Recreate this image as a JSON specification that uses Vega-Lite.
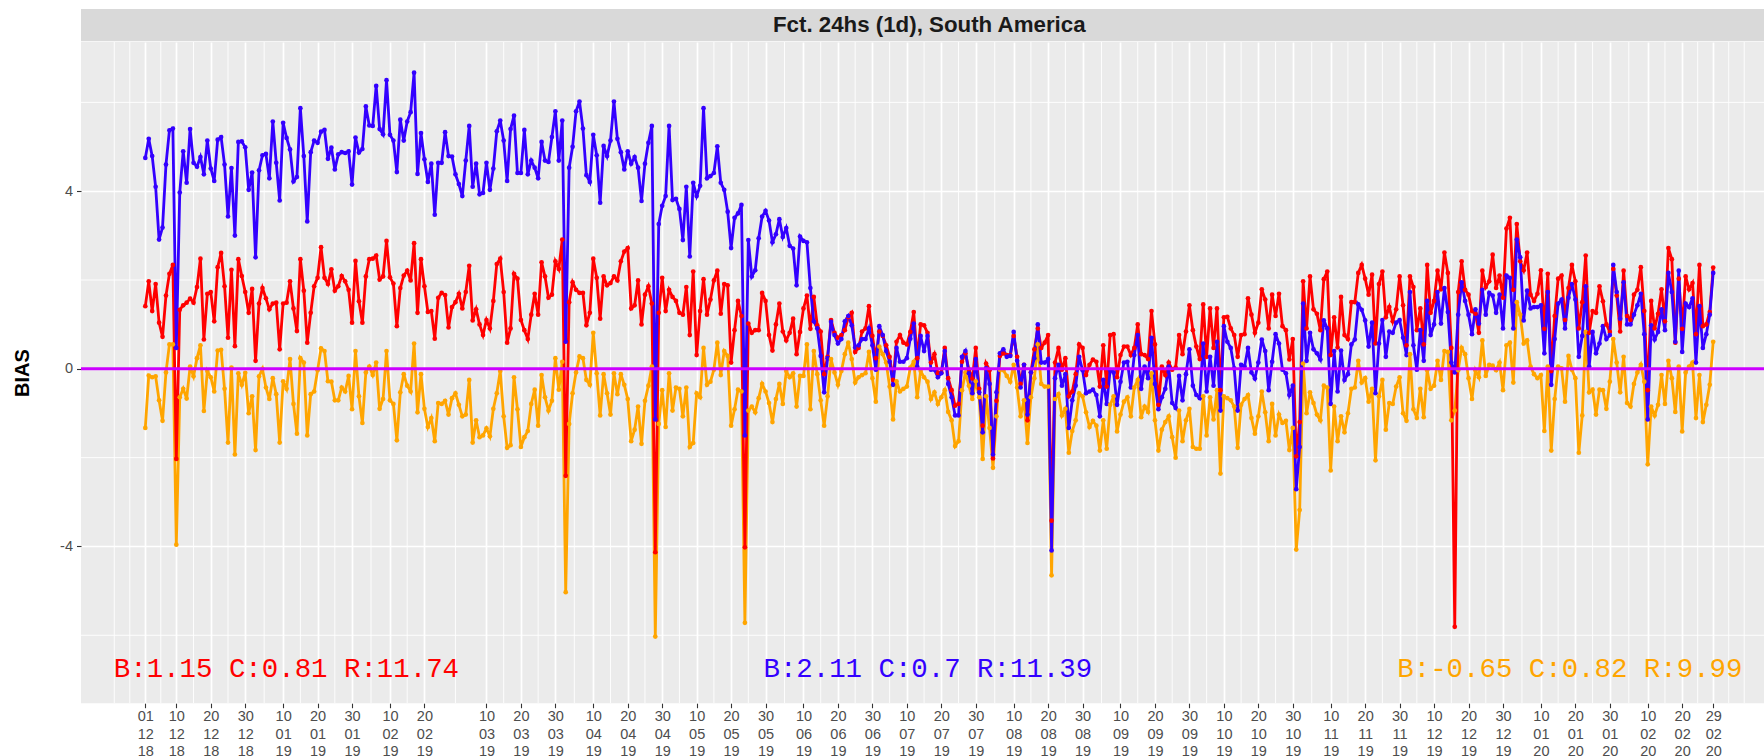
{
"$schema": "https://vega.github.io/schema/vega-lite/v6.json",
"background": "white",
"padding": {"left": 12, "top": 9, "right": 0, "bottom": 0},
"spacing": 0,
"bounds": "flush",
"config": {
  "font": "Liberation Sans",
  "view": {"stroke": null},
  "axis": {"domain": false, "tickColor": "#333333", "tickSize": 4.5, "tickWidth": 1.1, "labelColor": "#4D4D4D", "labelFontSize": 14.5, "labelFont": "Liberation Sans", "gridColor": "white", "gridWidth": 1.7, "titleFont": "Liberation Sans"},
  "axisX": {"labelPadding": 2, "labelLineHeight": 17.5, "labelOverlap": false, "labelFlush": false, "labelBaseline": "top", "tickCount": 200},
  "axisY": {"labelPadding": 4, "titleFontSize": 20, "titleFontWeight": "bold", "titleColor": "black", "titlePadding": 27}
},
"datasets": {
  "minorx": [{"d":"2018-11-22"},{"d":"2018-11-26T12:00:00Z"},{"d":"2018-12-05T12:00:00Z"},{"d":"2018-12-15"},{"d":"2018-12-25"},{"d":"2019-01-04T12:00:00Z"},{"d":"2019-01-15"},{"d":"2019-01-25"},{"d":"2019-02-04T12:00:00Z"},{"d":"2019-02-15"},{"d":"2019-03-01"},{"d":"2019-03-15"},{"d":"2019-03-25"},{"d":"2019-04-04T12:00:00Z"},{"d":"2019-04-15"},{"d":"2019-04-25"},{"d":"2019-05-05"},{"d":"2019-05-15"},{"d":"2019-05-25"},{"d":"2019-06-04T12:00:00Z"},{"d":"2019-06-15"},{"d":"2019-06-25"},{"d":"2019-07-05"},{"d":"2019-07-15"},{"d":"2019-07-25"},{"d":"2019-08-04T12:00:00Z"},{"d":"2019-08-15"},{"d":"2019-08-25"},{"d":"2019-09-04T12:00:00Z"},{"d":"2019-09-15"},{"d":"2019-09-25"},{"d":"2019-10-05"},{"d":"2019-10-15"},{"d":"2019-10-25"},{"d":"2019-11-04T12:00:00Z"},{"d":"2019-11-15"},{"d":"2019-11-25"},{"d":"2019-12-05"},{"d":"2019-12-15"},{"d":"2019-12-25"},{"d":"2020-01-04T12:00:00Z"},{"d":"2020-01-15"},{"d":"2020-01-25"},{"d":"2020-02-04T12:00:00Z"},{"d":"2020-02-15"},{"d":"2020-02-24T12:00:00Z"},{"d":"2020-03-04T12:00:00Z"},{"d":"2020-03-09"}],
  "minory": [{"v":-6},{"v":-2},{"v":2},{"v":6}],
  "zero": [{"v":0}],
  "notes": [
    {"d":"2019-01-10T23:00:00Z","v":-6.77,"k":"r","label":"B:1.15 C:0.81 R:11.74"},
    {"d":"2019-07-16T02:00:00Z","v":-6.77,"k":"b","label":"B:2.11 C:0.7 R:11.39"},
    {"d":"2020-01-18T10:00:00Z","v":-6.77,"k":"o","label":"B:-0.65 C:0.82 R:9.99"}
  ],
  "bias": [
{"d":"2018-12-01","r":1.41,"b":4.75,"o":-1.33},
{"d":"2018-12-02","r":1.97,"b":5.18,"o":-0.15},
{"d":"2018-12-03","r":1.30,"b":4.79,"o":-0.19},
{"d":"2018-12-04","r":1.91,"b":4.10,"o":-0.17},
{"d":"2018-12-05","r":1.04,"b":2.91,"o":-0.71},
{"d":"2018-12-06","r":0.72,"b":3.18,"o":-1.17},
{"d":"2018-12-07","r":1.65,"b":4.60,"o":-0.08},
{"d":"2018-12-08","r":2.14,"b":5.37,"o":0.55},
{"d":"2018-12-09","r":2.34,"b":5.41,"o":0.55},
{"d":"2018-12-10","r":-2.03,"b":0.47,"o":-3.96},
{"d":"2018-12-11","r":1.33,"b":3.97,"o":-0.64},
{"d":"2018-12-12","r":1.43,"b":4.90,"o":-0.45},
{"d":"2018-12-13","r":1.49,"b":4.19,"o":-0.67},
{"d":"2018-12-14","r":1.58,"b":5.40,"o":0.05},
{"d":"2018-12-15","r":1.49,"b":4.64,"o":-0.17},
{"d":"2018-12-16","r":1.84,"b":4.55,"o":0.24},
{"d":"2018-12-17","r":2.48,"b":4.77,"o":0.53},
{"d":"2018-12-18","r":0.66,"b":4.38,"o":-0.95},
{"d":"2018-12-19","r":1.69,"b":5.14,"o":-0.05},
{"d":"2018-12-20","r":1.73,"b":4.51,"o":-0.19},
{"d":"2018-12-21","r":1.07,"b":4.23,"o":-0.51},
{"d":"2018-12-22","r":2.29,"b":5.16,"o":0.41},
{"d":"2018-12-23","r":2.61,"b":5.22,"o":0.43},
{"d":"2018-12-24","r":1.86,"b":4.60,"o":-0.45},
{"d":"2018-12-25","r":0.70,"b":3.43,"o":-1.66},
{"d":"2018-12-26","r":2.23,"b":4.52,"o":0.03},
{"d":"2018-12-27","r":0.51,"b":3.00,"o":-1.93},
{"d":"2018-12-28","r":2.47,"b":5.11,"o":-0.10},
{"d":"2018-12-29","r":2.09,"b":5.12,"o":-0.36},
{"d":"2018-12-30","r":1.73,"b":4.99,"o":-0.09},
{"d":"2018-12-31","r":1.26,"b":4.03,"o":-1.00},
{"d":"2019-01-01","r":1.80,"b":4.42,"o":-0.62},
{"d":"2019-01-02","r":0.18,"b":2.51,"o":-1.83},
{"d":"2019-01-03","r":1.47,"b":4.47,"o":-0.17},
{"d":"2019-01-04","r":1.82,"b":4.81,"o":0.00},
{"d":"2019-01-05","r":1.59,"b":4.84,"o":-0.42},
{"d":"2019-01-06","r":1.34,"b":4.29,"o":-0.68},
{"d":"2019-01-07","r":1.47,"b":5.57,"o":-0.21},
{"d":"2019-01-08","r":1.49,"b":4.64,"o":-0.57},
{"d":"2019-01-09","r":0.44,"b":3.79,"o":-1.66},
{"d":"2019-01-10","r":1.47,"b":5.54,"o":-0.28},
{"d":"2019-01-11","r":1.49,"b":5.20,"o":-0.45},
{"d":"2019-01-12","r":1.97,"b":4.94,"o":0.22},
{"d":"2019-01-13","r":1.36,"b":4.22,"o":-0.79},
{"d":"2019-01-14","r":0.85,"b":4.32,"o":-1.46},
{"d":"2019-01-15","r":2.47,"b":5.87,"o":0.24},
{"d":"2019-01-16","r":1.76,"b":4.79,"o":0.14},
{"d":"2019-01-17","r":0.59,"b":3.32,"o":-1.50},
{"d":"2019-01-18","r":1.26,"b":4.88,"o":-0.57},
{"d":"2019-01-19","r":1.86,"b":5.14,"o":-0.51},
{"d":"2019-01-20","r":2.05,"b":5.09,"o":-0.03},
{"d":"2019-01-21","r":2.74,"b":5.34,"o":0.46},
{"d":"2019-01-22","r":2.05,"b":5.38,"o":0.40},
{"d":"2019-01-23","r":1.91,"b":4.73,"o":-0.28},
{"d":"2019-01-24","r":2.24,"b":4.98,"o":-0.29},
{"d":"2019-01-25","r":1.76,"b":4.49,"o":-0.71},
{"d":"2019-01-26","r":1.86,"b":4.83,"o":-0.71},
{"d":"2019-01-27","r":2.09,"b":4.88,"o":-0.42},
{"d":"2019-01-28","r":1.97,"b":4.86,"o":-0.51},
{"d":"2019-01-29","r":1.78,"b":4.90,"o":-0.16},
{"d":"2019-01-30","r":1.04,"b":4.15,"o":-0.91},
{"d":"2019-01-31","r":2.43,"b":5.21,"o":0.40},
{"d":"2019-02-01","r":1.52,"b":4.87,"o":-0.62},
{"d":"2019-02-02","r":1.04,"b":4.95,"o":-1.22},
{"d":"2019-02-03","r":2.08,"b":5.91,"o":-0.08},
{"d":"2019-02-04","r":2.47,"b":5.48,"o":0.05},
{"d":"2019-02-05","r":2.48,"b":5.47,"o":-0.14},
{"d":"2019-02-06","r":2.55,"b":6.37,"o":0.14},
{"d":"2019-02-07","r":2.01,"b":5.40,"o":-0.90},
{"d":"2019-02-08","r":2.08,"b":5.28,"o":-0.68},
{"d":"2019-02-09","r":2.88,"b":6.50,"o":0.40},
{"d":"2019-02-10","r":2.06,"b":5.27,"o":-0.71},
{"d":"2019-02-11","r":1.92,"b":5.14,"o":-0.79},
{"d":"2019-02-12","r":0.96,"b":4.43,"o":-1.61},
{"d":"2019-02-13","r":1.82,"b":5.61,"o":-0.53},
{"d":"2019-02-14","r":2.10,"b":5.14,"o":-0.12},
{"d":"2019-02-15","r":2.21,"b":5.57,"o":-0.38},
{"d":"2019-02-16","r":1.99,"b":5.78,"o":-0.51},
{"d":"2019-02-17","r":2.83,"b":6.67,"o":0.57},
{"d":"2019-02-18","r":1.26,"b":4.39,"o":-0.98},
{"d":"2019-02-19","r":2.47,"b":5.31,"o":-0.12},
{"d":"2019-02-20","r":1.86,"b":4.72,"o":-0.90},
{"d":"2019-02-21","r":1.28,"b":4.21,"o":-1.31},
{"d":"2019-02-22","r":1.30,"b":4.62,"o":-1.11},
{"d":"2019-02-23","r":0.68,"b":3.47,"o":-1.63},
{"d":"2019-02-24","r":1.60,"b":4.64,"o":-0.77},
{"d":"2019-02-25","r":1.71,"b":4.64,"o":-0.79},
{"d":"2019-02-26","r":1.66,"b":5.33,"o":-0.72},
{"d":"2019-02-27","r":0.93,"b":4.79,"o":-1.03},
{"d":"2019-02-28","r":1.39,"b":4.78,"o":-0.66},
{"d":"2019-03-01","r":1.50,"b":4.38,"o":-0.55},
{"d":"2019-03-02","r":1.69,"b":4.16,"o":-0.81},
{"d":"2019-03-03","r":1.36,"b":3.89,"o":-1.07},
{"d":"2019-03-04","r":1.73,"b":4.69,"o":-1.03},
{"d":"2019-03-05","r":2.32,"b":5.47,"o":-0.25},
{"d":"2019-03-06","r":1.09,"b":4.10,"o":-1.66},
{"d":"2019-03-07","r":1.34,"b":4.62,"o":-1.16},
{"d":"2019-03-08","r":1.00,"b":3.93,"o":-1.54},
{"d":"2019-03-09","r":0.76,"b":3.96,"o":-1.50},
{"d":"2019-03-10","r":1.10,"b":4.64,"o":-1.34},
{"d":"2019-03-11","r":0.91,"b":4.03,"o":-1.52},
{"d":"2019-03-12","r":1.53,"b":4.51,"o":-0.90},
{"d":"2019-03-13","r":2.36,"b":5.35,"o":-0.55},
{"d":"2019-03-14","r":2.48,"b":5.59,"o":-0.05},
{"d":"2019-03-15","r":1.73,"b":5.14,"o":-1.07},
{"d":"2019-03-16","r":0.59,"b":4.23,"o":-1.78},
{"d":"2019-03-17","r":0.91,"b":5.40,"o":-1.72},
{"d":"2019-03-18","r":2.14,"b":5.70,"o":-0.19},
{"d":"2019-03-19","r":2.03,"b":4.41,"o":-0.91},
{"d":"2019-03-20","r":1.10,"b":4.41,"o":-1.76},
{"d":"2019-03-21","r":0.87,"b":5.38,"o":-1.54},
{"d":"2019-03-22","r":0.67,"b":4.38,"o":-1.40},
{"d":"2019-03-23","r":1.22,"b":4.69,"o":-0.79},
{"d":"2019-03-24","r":1.69,"b":4.53,"o":-0.47},
{"d":"2019-03-25","r":1.22,"b":4.29,"o":-1.28},
{"d":"2019-03-26","r":2.40,"b":5.11,"o":-0.14},
{"d":"2019-03-27","r":2.08,"b":4.69,"o":-0.64},
{"d":"2019-03-28","r":1.60,"b":4.66,"o":-0.94},
{"d":"2019-03-29","r":1.67,"b":5.22,"o":-0.72},
{"d":"2019-03-30","r":2.42,"b":5.80,"o":0.24},
{"d":"2019-03-31","r":2.25,"b":4.69,"o":-0.47},
{"d":"2019-04-01","r":2.91,"b":5.59,"o":0.16},
{"d":"2019-04-02","r":-2.41,"b":0.61,"o":-5.03},
{"d":"2019-04-03","r":1.50,"b":4.53,"o":-1.24},
{"d":"2019-04-04","r":1.95,"b":5.00,"o":-0.55},
{"d":"2019-04-05","r":1.78,"b":5.80,"o":-0.08},
{"d":"2019-04-06","r":1.71,"b":6.02,"o":0.28},
{"d":"2019-04-07","r":1.71,"b":5.41,"o":0.24},
{"d":"2019-04-08","r":0.98,"b":4.36,"o":-0.25},
{"d":"2019-04-09","r":1.26,"b":4.21,"o":-0.36},
{"d":"2019-04-10","r":2.48,"b":5.27,"o":0.81},
{"d":"2019-04-11","r":2.05,"b":4.81,"o":-0.10},
{"d":"2019-04-12","r":1.13,"b":3.74,"o":-1.05},
{"d":"2019-04-13","r":2.08,"b":5.02,"o":-0.12},
{"d":"2019-04-14","r":1.88,"b":4.79,"o":-0.55},
{"d":"2019-04-15","r":1.93,"b":5.14,"o":-1.03},
{"d":"2019-04-16","r":2.08,"b":6.02,"o":-0.10},
{"d":"2019-04-17","r":1.99,"b":5.18,"o":-0.57},
{"d":"2019-04-18","r":2.42,"b":4.88,"o":-0.12},
{"d":"2019-04-19","r":2.64,"b":4.49,"o":-0.36},
{"d":"2019-04-20","r":2.72,"b":4.90,"o":-0.68},
{"d":"2019-04-21","r":1.36,"b":4.62,"o":-1.63},
{"d":"2019-04-22","r":1.43,"b":4.77,"o":-1.37},
{"d":"2019-04-23","r":1.99,"b":4.53,"o":-0.85},
{"d":"2019-04-24","r":1.00,"b":3.78,"o":-1.69},
{"d":"2019-04-25","r":1.67,"b":4.62,"o":-0.72},
{"d":"2019-04-26","r":1.86,"b":5.09,"o":-0.38},
{"d":"2019-04-27","r":1.47,"b":5.47,"o":0.05},
{"d":"2019-04-28","r":-4.13,"b":-1.14,"o":-6.03},
{"d":"2019-04-29","r":1.26,"b":3.26,"o":-1.24},
{"d":"2019-04-30","r":2.05,"b":3.67,"o":-0.48},
{"d":"2019-05-01","r":1.30,"b":3.89,"o":-1.31},
{"d":"2019-05-02","r":1.78,"b":5.47,"o":-0.10},
{"d":"2019-05-03","r":1.62,"b":3.80,"o":-0.94},
{"d":"2019-05-04","r":1.53,"b":3.83,"o":-0.42},
{"d":"2019-05-05","r":1.26,"b":3.60,"o":-0.45},
{"d":"2019-05-06","r":1.22,"b":2.90,"o":-1.07},
{"d":"2019-05-07","r":1.84,"b":4.10,"o":-0.42},
{"d":"2019-05-08","r":0.76,"b":2.53,"o":-1.76},
{"d":"2019-05-09","r":2.19,"b":4.19,"o":-1.67},
{"d":"2019-05-10","r":0.31,"b":3.89,"o":-0.55},
{"d":"2019-05-11","r":1.30,"b":4.12,"o":-0.64},
{"d":"2019-05-12","r":2.02,"b":5.87,"o":0.47},
{"d":"2019-05-13","r":1.22,"b":4.29,"o":-0.36},
{"d":"2019-05-14","r":1.56,"b":4.34,"o":-0.29},
{"d":"2019-05-15","r":1.99,"b":4.41,"o":-0.02},
{"d":"2019-05-16","r":2.21,"b":5.01,"o":0.59},
{"d":"2019-05-17","r":1.24,"b":4.19,"o":-0.14},
{"d":"2019-05-18","r":1.91,"b":4.03,"o":0.40},
{"d":"2019-05-19","r":1.88,"b":3.54,"o":0.29},
{"d":"2019-05-20","r":0.14,"b":2.72,"o":-1.28},
{"d":"2019-05-21","r":0.87,"b":3.40,"o":-0.91},
{"d":"2019-05-22","r":1.53,"b":3.50,"o":-0.47},
{"d":"2019-05-23","r":1.19,"b":3.69,"o":-0.51},
{"d":"2019-05-24","r":-4.02,"b":-1.50,"o":-5.72},
{"d":"2019-05-25","r":1.02,"b":2.90,"o":-0.94},
{"d":"2019-05-26","r":0.81,"b":2.08,"o":-0.85},
{"d":"2019-05-27","r":0.87,"b":2.22,"o":-0.98},
{"d":"2019-05-28","r":0.87,"b":2.94,"o":-0.66},
{"d":"2019-05-29","r":1.71,"b":3.43,"o":-0.34},
{"d":"2019-05-30","r":1.53,"b":3.56,"o":-0.51},
{"d":"2019-05-31","r":0.76,"b":3.34,"o":-0.77},
{"d":"2019-06-01","r":0.41,"b":2.85,"o":-1.20},
{"d":"2019-06-02","r":1.00,"b":3.03,"o":-0.68},
{"d":"2019-06-03","r":1.47,"b":3.37,"o":-0.34},
{"d":"2019-06-04","r":0.84,"b":2.97,"o":-0.79},
{"d":"2019-06-05","r":0.64,"b":3.17,"o":-0.05},
{"d":"2019-06-06","r":0.81,"b":2.77,"o":-0.19},
{"d":"2019-06-07","r":1.13,"b":2.71,"o":-0.10},
{"d":"2019-06-08","r":0.33,"b":1.88,"o":-0.85},
{"d":"2019-06-09","r":0.83,"b":2.98,"o":-0.16},
{"d":"2019-06-10","r":1.36,"b":2.88,"o":-0.16},
{"d":"2019-06-11","r":1.65,"b":2.85,"o":0.55},
{"d":"2019-06-12","r":0.90,"b":1.82,"o":-0.91},
{"d":"2019-06-13","r":1.62,"b":1.07,"o":0.40},
{"d":"2019-06-14","r":0.98,"b":0.91,"o":-0.12},
{"d":"2019-06-15","r":0.84,"b":0.29,"o":-0.71},
{"d":"2019-06-16","r":-0.12,"b":-0.53,"o":-1.28},
{"d":"2019-06-17","r":0.27,"b":0.24,"o":-0.62},
{"d":"2019-06-18","r":1.10,"b":1.06,"o":0.22},
{"d":"2019-06-19","r":0.81,"b":0.76,"o":-0.08},
{"d":"2019-06-20","r":0.70,"b":0.57,"o":-0.36},
{"d":"2019-06-21","r":0.76,"b":0.67,"o":-0.05},
{"d":"2019-06-22","r":0.87,"b":1.07,"o":0.33},
{"d":"2019-06-23","r":1.16,"b":1.19,"o":0.59},
{"d":"2019-06-24","r":1.26,"b":0.98,"o":0.22},
{"d":"2019-06-25","r":0.38,"b":0.48,"o":-0.31},
{"d":"2019-06-26","r":0.47,"b":0.53,"o":-0.19},
{"d":"2019-06-27","r":0.84,"b":0.67,"o":-0.14},
{"d":"2019-06-28","r":0.91,"b":0.67,"o":-0.10},
{"d":"2019-06-29","r":1.41,"b":0.91,"o":0.38},
{"d":"2019-06-30","r":0.74,"b":0.53,"o":-0.21},
{"d":"2019-07-01","r":0.24,"b":-0.02,"o":-0.74},
{"d":"2019-07-02","r":0.84,"b":0.96,"o":0.50},
{"d":"2019-07-03","r":0.74,"b":0.76,"o":0.33},
{"d":"2019-07-04","r":0.53,"b":0.40,"o":0.14},
{"d":"2019-07-05","r":0.27,"b":0.16,"o":-0.40},
{"d":"2019-07-06","r":-0.25,"b":-0.36,"o":-1.14},
{"d":"2019-07-07","r":0.61,"b":0.47,"o":-0.28},
{"d":"2019-07-08","r":0.76,"b":0.16,"o":-0.51},
{"d":"2019-07-09","r":0.59,"b":0.16,"o":-0.45},
{"d":"2019-07-10","r":0.55,"b":0.24,"o":-0.40},
{"d":"2019-07-11","r":0.83,"b":0.68,"o":0.03},
{"d":"2019-07-12","r":1.28,"b":1.02,"o":0.16},
{"d":"2019-07-13","r":0.24,"b":0.05,"o":-0.64},
{"d":"2019-07-14","r":1.00,"b":0.74,"o":-0.05},
{"d":"2019-07-15","r":0.98,"b":0.40,"o":-0.19},
{"d":"2019-07-16","r":0.81,"b":0.74,"o":-0.29},
{"d":"2019-07-17","r":0.14,"b":-0.02,"o":-0.68},
{"d":"2019-07-18","r":0.33,"b":-0.02,"o":-0.53},
{"d":"2019-07-19","r":-0.10,"b":-0.19,"o":-0.79},
{"d":"2019-07-20","r":-0.08,"b":-0.10,"o":-0.64},
{"d":"2019-07-21","r":0.47,"b":0.40,"o":-0.48},
{"d":"2019-07-22","r":-0.21,"b":-0.34,"o":-0.97},
{"d":"2019-07-23","r":-0.48,"b":-0.64,"o":-1.16},
{"d":"2019-07-24","r":-0.83,"b":-1.05,"o":-1.74},
{"d":"2019-07-25","r":-0.79,"b":-1.05,"o":-1.63},
{"d":"2019-07-26","r":0.16,"b":0.27,"o":-0.48},
{"d":"2019-07-27","r":0.35,"b":0.40,"o":-0.08},
{"d":"2019-07-28","r":-0.02,"b":-0.10,"o":-0.38},
{"d":"2019-07-29","r":-0.22,"b":-0.55,"o":-0.68},
{"d":"2019-07-30","r":0.47,"b":0.22,"o":-0.28},
{"d":"2019-07-31","r":-0.45,"b":-0.53,"o":-0.64},
{"d":"2019-08-01","r":-1.28,"b":-1.43,"o":-2.03},
{"d":"2019-08-02","r":0.12,"b":0.01,"o":-0.62},
{"d":"2019-08-03","r":-0.03,"b":-0.34,"o":-1.33},
{"d":"2019-08-04","r":-2.02,"b":-1.93,"o":-2.23},
{"d":"2019-08-05","r":-0.72,"b":-0.53,"o":-1.07},
{"d":"2019-08-06","r":0.29,"b":0.35,"o":-0.02},
{"d":"2019-08-07","r":0.35,"b":0.44,"o":-0.03},
{"d":"2019-08-08","r":0.31,"b":0.27,"o":-0.16},
{"d":"2019-08-09","r":0.31,"b":0.29,"o":-0.29},
{"d":"2019-08-10","r":0.74,"b":0.83,"o":0.09},
{"d":"2019-08-11","r":0.27,"b":0.18,"o":-0.42},
{"d":"2019-08-12","r":-0.34,"b":-0.42,"o":-1.07},
{"d":"2019-08-13","r":0.09,"b":0.09,"o":-0.71},
{"d":"2019-08-14","r":-1.16,"b":-1.03,"o":-1.67},
{"d":"2019-08-15","r":-0.08,"b":-0.08,"o":-0.64},
{"d":"2019-08-16","r":0.44,"b":0.24,"o":-0.21},
{"d":"2019-08-17","r":0.91,"b":1.00,"o":0.55},
{"d":"2019-08-18","r":0.47,"b":0.14,"o":-0.34},
{"d":"2019-08-19","r":0.59,"b":0.14,"o":-0.40},
{"d":"2019-08-20","r":0.76,"b":0.22,"o":-0.40},
{"d":"2019-08-21","r":-3.42,"b":-4.09,"o":-4.65},
{"d":"2019-08-22","r":0.14,"b":-0.21,"o":-0.68},
{"d":"2019-08-23","r":0.47,"b":0.09,"o":-0.57},
{"d":"2019-08-24","r":-0.02,"b":-0.38,"o":-1.05},
{"d":"2019-08-25","r":0.24,"b":-0.12,"o":-0.90},
{"d":"2019-08-26","r":-0.62,"b":-1.33,"o":-1.89},
{"d":"2019-08-27","r":-0.51,"b":-0.71,"o":-1.40},
{"d":"2019-08-28","r":-0.12,"b":-0.38,"o":-1.16},
{"d":"2019-08-29","r":0.55,"b":0.27,"o":-0.55},
{"d":"2019-08-30","r":0.47,"b":-0.03,"o":-0.62},
{"d":"2019-08-31","r":-0.14,"b":-0.55,"o":-0.98},
{"d":"2019-09-01","r":0.09,"b":-0.51,"o":-1.31},
{"d":"2019-09-02","r":0.21,"b":-0.47,"o":-1.17},
{"d":"2019-09-03","r":0.16,"b":-0.59,"o":-1.28},
{"d":"2019-09-04","r":-0.40,"b":-1.07,"o":-1.84},
{"d":"2019-09-05","r":0.53,"b":-0.25,"o":-1.16},
{"d":"2019-09-06","r":-0.40,"b":-0.79,"o":-1.80},
{"d":"2019-09-07","r":0.76,"b":-0.03,"o":-0.81},
{"d":"2019-09-08","r":0.78,"b":-0.08,"o":-0.62},
{"d":"2019-09-09","r":-0.19,"b":-0.81,"o":-1.41},
{"d":"2019-09-10","r":0.31,"b":-0.29,"o":-1.03},
{"d":"2019-09-11","r":0.50,"b":0.14,"o":-0.74},
{"d":"2019-09-12","r":0.50,"b":0.16,"o":-0.64},
{"d":"2019-09-13","r":0.31,"b":-0.42,"o":-1.07},
{"d":"2019-09-14","r":0.47,"b":0.31,"o":-0.42},
{"d":"2019-09-15","r":1.00,"b":0.76,"o":-0.25},
{"d":"2019-09-16","r":0.33,"b":-0.45,"o":-1.09},
{"d":"2019-09-17","r":0.31,"b":0.05,"o":-0.85},
{"d":"2019-09-18","r":0.22,"b":-0.21,"o":-0.97},
{"d":"2019-09-19","r":1.30,"b":0.70,"o":-0.10},
{"d":"2019-09-20","r":0.55,"b":-0.34,"o":-1.16},
{"d":"2019-09-21","r":-0.81,"b":-0.91,"o":-1.84},
{"d":"2019-09-22","r":0.05,"b":-0.64,"o":-1.37},
{"d":"2019-09-23","r":-0.14,"b":-0.45,"o":-1.20},
{"d":"2019-09-24","r":0.14,"b":0.05,"o":-1.07},
{"d":"2019-09-25","r":-0.02,"b":-0.77,"o":-1.54},
{"d":"2019-09-26","r":0.03,"b":-0.88,"o":-2.00},
{"d":"2019-09-27","r":0.76,"b":-0.16,"o":-0.94},
{"d":"2019-09-28","r":0.33,"b":-0.71,"o":-1.63},
{"d":"2019-09-29","r":0.84,"b":-0.12,"o":-1.16},
{"d":"2019-09-30","r":1.43,"b":0.44,"o":-0.90},
{"d":"2019-10-01","r":0.87,"b":-0.38,"o":-1.76},
{"d":"2019-10-02","r":0.50,"b":-0.59,"o":-1.80},
{"d":"2019-10-03","r":0.22,"b":-0.66,"o":-1.80},
{"d":"2019-10-04","r":1.45,"b":0.57,"o":-0.62},
{"d":"2019-10-05","r":0.27,"b":-0.51,"o":-1.50},
{"d":"2019-10-06","r":1.36,"b":0.27,"o":-0.64},
{"d":"2019-10-07","r":0.47,"b":-0.38,"o":-1.14},
{"d":"2019-10-08","r":1.36,"b":0.61,"o":-0.48},
{"d":"2019-10-09","r":-0.48,"b":-0.94,"o":-2.36},
{"d":"2019-10-10","r":1.16,"b":0.96,"o":-0.62},
{"d":"2019-10-11","r":1.17,"b":0.61,"o":-0.66},
{"d":"2019-10-12","r":0.91,"b":0.47,"o":-0.71},
{"d":"2019-10-13","r":0.76,"b":0.01,"o":-0.85},
{"d":"2019-10-14","r":0.27,"b":-0.94,"o":-1.78},
{"d":"2019-10-15","r":0.76,"b":0.09,"o":-0.81},
{"d":"2019-10-16","r":0.78,"b":0.05,"o":-0.68},
{"d":"2019-10-17","r":1.59,"b":0.47,"o":-0.59},
{"d":"2019-10-18","r":1.22,"b":-0.08,"o":-1.11},
{"d":"2019-10-19","r":0.81,"b":-0.22,"o":-1.46},
{"d":"2019-10-20","r":1.04,"b":0.14,"o":-1.07},
{"d":"2019-10-21","r":1.79,"b":0.66,"o":-0.51},
{"d":"2019-10-22","r":1.56,"b":0.40,"o":-0.98},
{"d":"2019-10-23","r":0.91,"b":-0.48,"o":-1.63},
{"d":"2019-10-24","r":1.67,"b":0.16,"o":-0.79},
{"d":"2019-10-25","r":1.19,"b":0.78,"o":-1.50},
{"d":"2019-10-26","r":1.69,"b":0.57,"o":-1.03},
{"d":"2019-10-27","r":0.96,"b":-0.02,"o":-1.22},
{"d":"2019-10-28","r":0.87,"b":-0.10,"o":-1.17},
{"d":"2019-10-29","r":0.21,"b":-0.59,"o":-1.83},
{"d":"2019-10-30","r":0.67,"b":-0.38,"o":-1.33},
{"d":"2019-10-31","r":-1.97,"b":-2.71,"o":-4.07},
{"d":"2019-11-01","r":-1.20,"b":-1.76,"o":-3.18},
{"d":"2019-11-02","r":1.97,"b":1.47,"o":0.12},
{"d":"2019-11-03","r":0.91,"b":0.18,"o":-1.00},
{"d":"2019-11-04","r":2.08,"b":0.81,"o":-0.53},
{"d":"2019-11-05","r":1.34,"b":0.44,"o":-0.77},
{"d":"2019-11-06","r":1.24,"b":0.35,"o":-1.03},
{"d":"2019-11-07","r":0.87,"b":0.21,"o":-1.16},
{"d":"2019-11-08","r":2.02,"b":1.09,"o":-0.38},
{"d":"2019-11-09","r":2.19,"b":0.91,"o":-0.42},
{"d":"2019-11-10","r":0.31,"b":-0.79,"o":-2.29},
{"d":"2019-11-11","r":1.16,"b":0.40,"o":-0.85},
{"d":"2019-11-12","r":0.48,"b":-0.51,"o":-1.63},
{"d":"2019-11-13","r":1.62,"b":0.41,"o":-1.07},
{"d":"2019-11-14","r":0.76,"b":-0.25,"o":-1.43},
{"d":"2019-11-15","r":0.67,"b":-0.12,"o":-1.00},
{"d":"2019-11-16","r":1.50,"b":0.55,"o":-0.45},
{"d":"2019-11-17","r":1.50,"b":0.66,"o":-0.42},
{"d":"2019-11-18","r":2.16,"b":1.45,"o":0.18},
{"d":"2019-11-19","r":2.34,"b":1.33,"o":-0.31},
{"d":"2019-11-20","r":2.03,"b":1.09,"o":-0.21},
{"d":"2019-11-21","r":1.67,"b":0.50,"o":-0.74},
{"d":"2019-11-22","r":2.12,"b":1.04,"o":-0.45},
{"d":"2019-11-23","r":0.57,"b":-0.55,"o":-2.06},
{"d":"2019-11-24","r":1.91,"b":0.57,"o":-0.62},
{"d":"2019-11-25","r":2.19,"b":1.10,"o":-0.25},
{"d":"2019-11-26","r":1.16,"b":0.27,"o":-1.37},
{"d":"2019-11-27","r":1.39,"b":0.84,"o":-0.77},
{"d":"2019-11-28","r":1.07,"b":0.81,"o":-0.79},
{"d":"2019-11-29","r":1.34,"b":1.04,"o":-0.40},
{"d":"2019-11-30","r":2.08,"b":1.10,"o":-0.19},
{"d":"2019-12-01","r":1.43,"b":0.70,"o":-1.00},
{"d":"2019-12-02","r":0.53,"b":0.31,"o":-1.17},
{"d":"2019-12-03","r":2.08,"b":1.73,"o":0.33},
{"d":"2019-12-04","r":1.84,"b":0.53,"o":-0.91},
{"d":"2019-12-05","r":0.87,"b":-0.02,"o":-1.11},
{"d":"2019-12-06","r":1.36,"b":0.87,"o":-0.45},
{"d":"2019-12-07","r":0.55,"b":0.18,"o":-1.09},
{"d":"2019-12-08","r":2.34,"b":1.53,"o":-0.03},
{"d":"2019-12-09","r":1.26,"b":0.76,"o":-0.45},
{"d":"2019-12-10","r":1.53,"b":1.00,"o":-0.38},
{"d":"2019-12-11","r":2.21,"b":1.73,"o":0.18},
{"d":"2019-12-12","r":1.79,"b":1.02,"o":-0.25},
{"d":"2019-12-13","r":2.62,"b":1.82,"o":0.40},
{"d":"2019-12-14","r":2.16,"b":1.28,"o":0.38},
{"d":"2019-12-15","r":0.47,"b":0.14,"o":-1.16},
{"d":"2019-12-16","r":-5.81,"b":-0.08,"o":-0.94},
{"d":"2019-12-17","r":1.73,"b":1.22,"o":-0.03},
{"d":"2019-12-18","r":2.42,"b":1.95,"o":0.47},
{"d":"2019-12-19","r":1.78,"b":1.53,"o":0.33},
{"d":"2019-12-20","r":1.67,"b":1.22,"o":-0.21},
{"d":"2019-12-21","r":1.30,"b":0.78,"o":-0.68},
{"d":"2019-12-22","r":1.24,"b":1.34,"o":-0.03},
{"d":"2019-12-23","r":0.81,"b":1.02,"o":-0.19},
{"d":"2019-12-24","r":2.21,"b":1.78,"o":0.64},
{"d":"2019-12-25","r":1.84,"b":1.22,"o":-0.16},
{"d":"2019-12-26","r":1.97,"b":1.71,"o":0.09},
{"d":"2019-12-27","r":2.57,"b":1.65,"o":0.07},
{"d":"2019-12-28","r":1.82,"b":1.26,"o":-0.03},
{"d":"2019-12-29","r":2.10,"b":1.67,"o":0.14},
{"d":"2019-12-30","r":1.60,"b":0.91,"o":-0.48},
{"d":"2019-12-31","r":3.16,"b":2.10,"o":0.53},
{"d":"2020-01-01","r":3.40,"b":2.05,"o":0.59},
{"d":"2020-01-02","r":1.78,"b":0.91,"o":-0.31},
{"d":"2020-01-03","r":3.26,"b":2.91,"o":1.50},
{"d":"2020-01-04","r":2.42,"b":2.51,"o":1.22},
{"d":"2020-01-05","r":2.22,"b":1.09,"o":0.57},
{"d":"2020-01-06","r":2.62,"b":1.76,"o":0.64},
{"d":"2020-01-07","r":1.67,"b":1.36,"o":0.05},
{"d":"2020-01-08","r":1.53,"b":1.39,"o":-0.12},
{"d":"2020-01-09","r":1.69,"b":1.39,"o":-0.21},
{"d":"2020-01-10","r":2.22,"b":1.43,"o":-0.14},
{"d":"2020-01-11","r":0.90,"b":0.35,"o":-1.40},
{"d":"2020-01-12","r":2.14,"b":1.73,"o":0.05},
{"d":"2020-01-13","r":-0.05,"b":-0.36,"o":-1.84},
{"d":"2020-01-14","r":1.19,"b":0.67,"o":-0.68},
{"d":"2020-01-15","r":2.03,"b":1.47,"o":0.05},
{"d":"2020-01-16","r":2.10,"b":1.56,"o":0.01},
{"d":"2020-01-17","r":1.10,"b":0.91,"o":-0.74},
{"d":"2020-01-18","r":1.82,"b":1.60,"o":0.29},
{"d":"2020-01-19","r":2.34,"b":1.91,"o":-0.02},
{"d":"2020-01-20","r":1.97,"b":1.56,"o":-0.21},
{"d":"2020-01-21","r":0.91,"b":0.27,"o":-1.89},
{"d":"2020-01-22","r":1.50,"b":0.74,"o":-1.05},
{"d":"2020-01-23","r":2.55,"b":1.86,"o":0.83},
{"d":"2020-01-24","r":0.81,"b":0.05,"o":-0.53},
{"d":"2020-01-25","r":1.30,"b":0.83,"o":-0.47},
{"d":"2020-01-26","r":1.26,"b":0.35,"o":-1.03},
{"d":"2020-01-27","r":1.86,"b":0.57,"o":-0.47},
{"d":"2020-01-28","r":1.52,"b":0.96,"o":-0.48},
{"d":"2020-01-29","r":1.00,"b":0.67,"o":-0.90},
{"d":"2020-01-30","r":0.83,"b":0.76,"o":-0.29},
{"d":"2020-01-31","r":2.25,"b":2.34,"o":0.67},
{"d":"2020-02-01","r":1.65,"b":1.73,"o":0.14},
{"d":"2020-02-02","r":0.84,"b":1.13,"o":-0.53},
{"d":"2020-02-03","r":2.21,"b":1.95,"o":0.27},
{"d":"2020-02-04","r":1.19,"b":1.00,"o":-0.77},
{"d":"2020-02-05","r":1.10,"b":1.00,"o":-0.85},
{"d":"2020-02-06","r":1.67,"b":1.22,"o":-0.34},
{"d":"2020-02-07","r":1.78,"b":1.43,"o":-0.08},
{"d":"2020-02-08","r":2.29,"b":1.69,"o":0.09},
{"d":"2020-02-09","r":1.30,"b":0.78,"o":-0.29},
{"d":"2020-02-10","r":-0.48,"b":-1.14,"o":-2.15},
{"d":"2020-02-11","r":1.53,"b":0.98,"o":-0.85},
{"d":"2020-02-12","r":0.91,"b":0.66,"o":-1.05},
{"d":"2020-02-13","r":1.24,"b":0.83,"o":-0.81},
{"d":"2020-02-14","r":1.79,"b":1.34,"o":-0.14},
{"d":"2020-02-15","r":1.07,"b":0.87,"o":-0.79},
{"d":"2020-02-16","r":2.72,"b":2.16,"o":0.18},
{"d":"2020-02-17","r":2.47,"b":1.73,"o":-0.21},
{"d":"2020-02-18","r":0.59,"b":0.61,"o":-0.97},
{"d":"2020-02-19","r":2.03,"b":2.21,"o":0.05},
{"d":"2020-02-20","r":0.90,"b":0.38,"o":-1.41},
{"d":"2020-02-21","r":2.08,"b":1.47,"o":-0.08},
{"d":"2020-02-22","r":1.79,"b":1.39,"o":0.05},
{"d":"2020-02-23","r":1.93,"b":1.59,"o":0.14},
{"d":"2020-02-24","r":0.78,"b":0.14,"o":-1.11},
{"d":"2020-02-25","r":2.34,"b":1.41,"o":-0.14},
{"d":"2020-02-26","r":0.96,"b":0.47,"o":-1.20},
{"d":"2020-02-27","r":1.00,"b":0.78,"o":-0.81},
{"d":"2020-02-28","r":1.28,"b":1.22,"o":-0.36},
{"d":"2020-02-29","r":2.28,"b":2.16,"o":0.61}
  ]
},
"vconcat": [
  {
    "width": 1696.5,
    "height": 32.3,
    "view": {"fill": "#D9D9D9", "stroke": null},
    "data": {"values": [{"label": "Fct. 24hs (1d), South America"}]},
    "mark": {"type": "text", "font": "Liberation Sans", "fontSize": 22.3, "fontWeight": "bold", "color": "#1A1A1A", "align": "center", "baseline": "middle"},
    "encoding": {"text": {"field": "label", "type": "nominal"}}
  },
  {
    "width": 1696.5,
    "height": 661.2,
    "view": {"fill": "#EBEBEB", "stroke": null},
    "layer": [
      {
        "data": {"name": "minorx"},
        "mark": {"type": "rule", "color": "white", "strokeWidth": 0.9},
        "encoding": {
          "x": {"field": "d", "type": "temporal", "scale": {"type": "utc", "nice": false, "domain": [{"year": 2018, "month": 11, "date": 12, "hours": 8, "minutes": 10, "utc": true}, {"year": 2020, "month": 3, "date": 18, "hours": 15, "minutes": 50, "utc": true}]},
            "axis": {"title": null, "grid": true, "tickCount": 200, "labelOverlap": false, "labelBound": false, "labelFlush": false, "labelLineHeight": 17.5,
              "values": [
                {"year":2018,"month":12,"date":1,"utc":true},{"year":2018,"month":12,"date":10,"utc":true},{"year":2018,"month":12,"date":20,"utc":true},{"year":2018,"month":12,"date":30,"utc":true},
                {"year":2019,"month":1,"date":10,"utc":true},{"year":2019,"month":1,"date":20,"utc":true},{"year":2019,"month":1,"date":30,"utc":true},
                {"year":2019,"month":2,"date":10,"utc":true},{"year":2019,"month":2,"date":20,"utc":true},
                {"year":2019,"month":3,"date":10,"utc":true},{"year":2019,"month":3,"date":20,"utc":true},{"year":2019,"month":3,"date":30,"utc":true},
                {"year":2019,"month":4,"date":10,"utc":true},{"year":2019,"month":4,"date":20,"utc":true},{"year":2019,"month":4,"date":30,"utc":true},
                {"year":2019,"month":5,"date":10,"utc":true},{"year":2019,"month":5,"date":20,"utc":true},{"year":2019,"month":5,"date":30,"utc":true},
                {"year":2019,"month":6,"date":10,"utc":true},{"year":2019,"month":6,"date":20,"utc":true},{"year":2019,"month":6,"date":30,"utc":true},
                {"year":2019,"month":7,"date":10,"utc":true},{"year":2019,"month":7,"date":20,"utc":true},{"year":2019,"month":7,"date":30,"utc":true},
                {"year":2019,"month":8,"date":10,"utc":true},{"year":2019,"month":8,"date":20,"utc":true},{"year":2019,"month":8,"date":30,"utc":true},
                {"year":2019,"month":9,"date":10,"utc":true},{"year":2019,"month":9,"date":20,"utc":true},{"year":2019,"month":9,"date":30,"utc":true},
                {"year":2019,"month":10,"date":10,"utc":true},{"year":2019,"month":10,"date":20,"utc":true},{"year":2019,"month":10,"date":30,"utc":true},
                {"year":2019,"month":11,"date":10,"utc":true},{"year":2019,"month":11,"date":20,"utc":true},{"year":2019,"month":11,"date":30,"utc":true},
                {"year":2019,"month":12,"date":10,"utc":true},{"year":2019,"month":12,"date":20,"utc":true},{"year":2019,"month":12,"date":30,"utc":true},
                {"year":2020,"month":1,"date":10,"utc":true},{"year":2020,"month":1,"date":20,"utc":true},{"year":2020,"month":1,"date":30,"utc":true},
                {"year":2020,"month":2,"date":10,"utc":true},{"year":2020,"month":2,"date":20,"utc":true},{"year":2020,"month":2,"date":29,"utc":true}
              ],
              "labelExpr": "[utcFormat(datum.value, '%d'), utcFormat(datum.value, '%m'), utcFormat(datum.value, '%y')]"
            }
          }
        }
      },
      {
        "data": {"name": "minory"},
        "mark": {"type": "rule", "color": "white", "strokeWidth": 0.9},
        "encoding": {
          "y": {"field": "v", "type": "quantitative", "scale": {"domain": [-7.53, 7.36], "nice": false, "zero": false},
            "axis": {"title": "BIAS", "values": [-4, 0, 4], "grid": true, "labelExpr": "toString(datum.value)"}}
        }
      },
      {
        "data": {"name": "bias"},
        "transform": [{"fold": ["o", "r", "b"], "as": ["k", "v"]}],
        "mark": {"type": "line", "strokeWidth": 2.8},
        "encoding": {
          "x": {"field": "d", "type": "temporal", "scale": {"type": "utc", "nice": false, "domain": [{"year": 2018, "month": 11, "date": 12, "hours": 8, "minutes": 10, "utc": true}, {"year": 2020, "month": 3, "date": 18, "hours": 15, "minutes": 50, "utc": true}]},
            "axis": {"title": null, "tickCount": 200, "labelOverlap": false, "labelBound": false, "labelFlush": false}},
          "y": {"field": "v", "type": "quantitative", "scale": {"domain": [-7.53, 7.36], "nice": false, "zero": false}},
          "color": {"field": "k", "type": "nominal", "scale": {"domain": ["o", "r", "b"], "range": ["#FFA500", "#FF0000", "#3300FF"]}, "legend": null}
        }
      },
      {
        "data": {"name": "bias"},
        "transform": [{"fold": ["o", "r", "b"], "as": ["k", "v"]}],
        "mark": {"type": "circle", "size": 22, "opacity": 1},
        "encoding": {
          "x": {"field": "d", "type": "temporal", "axis": {"title": null, "tickCount": 200, "labelOverlap": false, "labelBound": false, "labelFlush": false}},
          "y": {"field": "v", "type": "quantitative"},
          "color": {"field": "k", "type": "nominal", "legend": null}
        }
      },
      {
        "data": {"name": "zero"},
        "mark": {"type": "rule", "color": "#CC00FF", "strokeWidth": 3},
        "encoding": {"y": {"field": "v", "type": "quantitative"}}
      },
      {
        "data": {"name": "notes"},
        "mark": {"type": "text", "font": "Liberation Mono", "fontSize": 27.4, "align": "center", "baseline": "middle"},
        "encoding": {
          "x": {"field": "d", "type": "temporal", "axis": {"title": null, "tickCount": 200, "labelOverlap": false, "labelBound": false, "labelFlush": false}},
          "y": {"field": "v", "type": "quantitative"},
          "text": {"field": "label", "type": "nominal"},
          "color": {"field": "k", "type": "nominal", "legend": null}
        }
      }
    ]
  }
]
}
